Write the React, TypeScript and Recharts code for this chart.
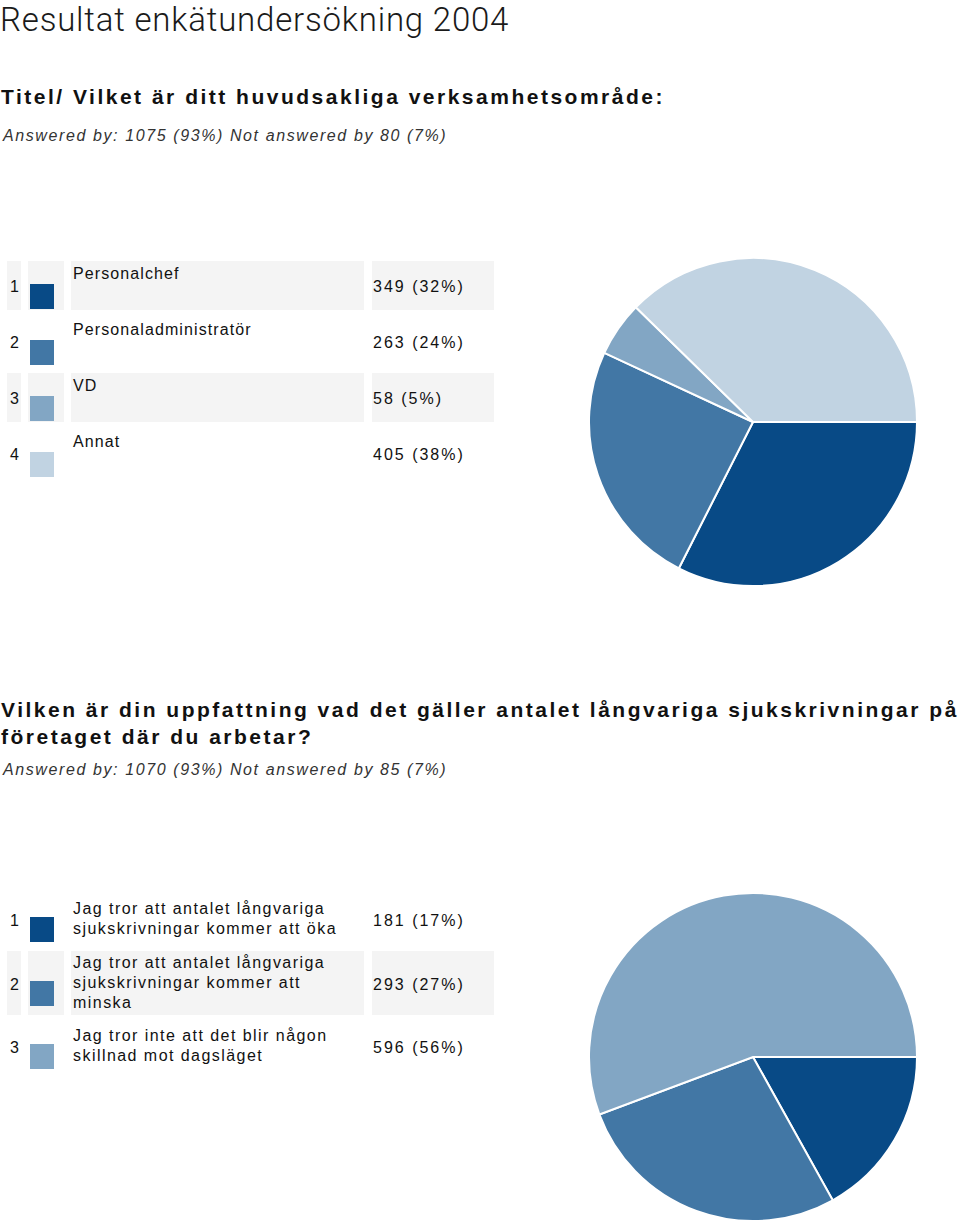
import React from "react";
import { Cell, Pie, PieChart } from "recharts";

const q1Labels = ["Personalchef", "Personaladministratör", "VD", "Annat"];
const q1Counts = [349, 263, 58, 405];
const q1Shares = ["32%", "24%", "5%", "38%"];

const q2Labels = [
  "Jag tror att antalet långvariga sjukskrivningar kommer att öka",
  "Jag tror att antalet långvariga sjukskrivningar kommer att minska",
  "Jag tror inte att det blir någon skillnad mot dagsläget",
];
const q2Counts = [181, 293, 596];
const q2Shares = ["17%", "27%", "56%"];

const COLORS = ["#084a86", "#4277a5", "#82a6c4", "#c1d3e2"];
const SHADE = "#f4f4f4";
const TABLE_FONT = "'Liberation Sans', Arial, sans-serif";

interface RowSpec {
  top: number;
  height: number;
  shaded: boolean;
}

interface LegendProps {
  labels: string[];
  counts: number[];
  shares: string[];
  rows: RowSpec[];
  labelTop: boolean;
  labelSpacing: number;
}

function LegendTable({ labels, counts, shares, rows, labelTop, labelSpacing }: LegendProps) {
  return (
    <>
      {labels.map((label, i) => {
        const r = rows[i];
        const bg = r.shaded ? SHADE : "transparent";
        const cell: React.CSSProperties = {
          position: "absolute",
          top: r.top,
          height: r.height,
          background: bg,
          display: "flex",
          alignItems: "center",
          fontFamily: TABLE_FONT,
          fontSize: 16,
          color: "#111",
          boxSizing: "border-box",
        };
        return (
          <React.Fragment key={label}>
            <div style={{ ...cell, left: 7, width: 14, paddingLeft: 3, paddingTop: 3 }}>{i + 1}</div>
            <div style={{ ...cell, left: 28, width: 36 }}>
              <div
                style={{
                  position: "absolute",
                  left: 2,
                  top: r.height / 2 - 2,
                  width: 24,
                  height: 25,
                  background: COLORS[i],
                }}
              />
            </div>
            <div
              style={{
                ...cell,
                left: 71,
                width: 293,
                alignItems: labelTop ? "flex-start" : "center",
                paddingLeft: 2,
                paddingTop: labelTop ? 3 : 0,
                lineHeight: "20px",
                letterSpacing: labelSpacing,
              }}
            >
              <span style={{ width: 285 }}>{label}</span>
            </div>
            <div
              style={{
                ...cell,
                left: 372,
                width: 122,
                paddingLeft: 1,
                paddingTop: 3,
                letterSpacing: 2,
              }}
            >
              {`${counts[i]} (${shares[i]})`}
            </div>
          </React.Fragment>
        );
      })}
    </>
  );
}

interface PieProps {
  labels: string[];
  counts: number[];
  left: number;
  top: number;
}

function SurveyPie({ labels, counts, left, top }: PieProps) {
  const data = labels.map((name, i) => ({ name, value: counts[i] }));
  return (
    <div style={{ position: "absolute", left, top }}>
      <PieChart width={340} height={340} margin={{ top: 0, right: 0, bottom: 0, left: 0 }}>
        <Pie
          data={data}
          dataKey="value"
          nameKey="name"
          cx={170}
          cy={170}
          outerRadius={164}
          startAngle={0}
          endAngle={-360}
          stroke="#ffffff"
          strokeWidth={2}
          isAnimationActive={false}
        >
          {data.map((d, i) => (
            <Cell key={d.name} fill={COLORS[i]} />
          ))}
        </Pie>
      </PieChart>
    </div>
  );
}

const heading: React.CSSProperties = {
  position: "absolute",
  left: 1,
  fontFamily: TABLE_FONT,
  fontWeight: 700,
  fontSize: 21,
  letterSpacing: 2.5,
  color: "#111",
  whiteSpace: "nowrap",
};

const answered: React.CSSProperties = {
  position: "absolute",
  left: 3,
  fontFamily: TABLE_FONT,
  fontStyle: "italic",
  fontSize: 16,
  letterSpacing: 1.6,
  color: "#333",
  whiteSpace: "nowrap",
  lineHeight: "20px",
};

export default function App() {
  return (
    <div
      style={{
        position: "absolute",
        left: 0,
        top: 0,
        width: 960,
        height: 1224,
        background: "#fff",
        overflow: "hidden",
      }}
    >
      <div
        style={{
          position: "absolute",
          left: 0,
          top: 0,
          fontFamily: "Roboto, sans-serif",
          fontWeight: 300,
          fontSize: 33,
          letterSpacing: 0.8,
          lineHeight: "normal",
          color: "#1a1a1a",
          whiteSpace: "nowrap",
        }}
      >
        Resultat enkätundersökning 2004
      </div>

      <div style={{ ...heading, top: 86, lineHeight: "22px" }}>
        Titel/ Vilket är ditt huvudsakliga verksamhetsområde:
      </div>
      <div style={{ ...answered, top: 126 }}>Answered by: 1075 (93%) Not answered by 80 (7%)</div>

      <LegendTable
        labels={q1Labels}
        counts={q1Counts}
        shares={q1Shares}
        labelTop
        labelSpacing={1.1}
        rows={[
          { top: 261, height: 49, shaded: true },
          { top: 317, height: 49, shaded: false },
          { top: 373, height: 49, shaded: true },
          { top: 429, height: 49, shaded: false },
        ]}
      />
      <SurveyPie labels={q1Labels} counts={q1Counts} left={583} top={252} />

      <div style={{ ...heading, top: 696, lineHeight: "27px" }}>
        Vilken är din uppfattning vad det gäller antalet långvariga sjukskrivningar på
        <br />
        företaget där du arbetar?
      </div>
      <div style={{ ...answered, top: 760 }}>Answered by: 1070 (93%) Not answered by 85 (7%)</div>

      <LegendTable
        labels={q2Labels}
        counts={q2Counts}
        shares={q2Shares}
        labelTop={false}
        labelSpacing={1.45}
        rows={[
          { top: 894, height: 50, shaded: false },
          { top: 951, height: 64, shaded: true },
          { top: 1021, height: 50, shaded: false },
        ]}
      />
      <SurveyPie labels={q2Labels} counts={q2Counts} left={583} top={887} />
    </div>
  );
}
